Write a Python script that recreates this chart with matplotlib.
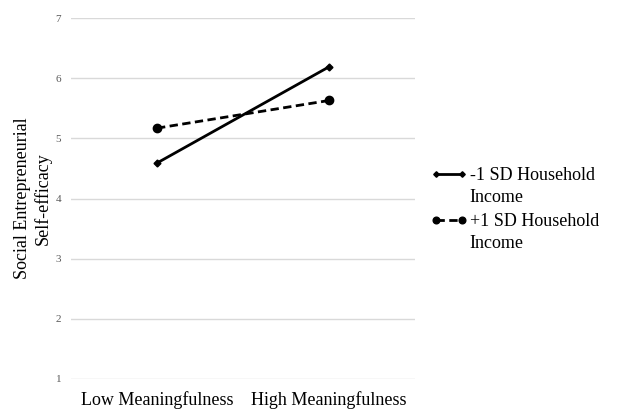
import matplotlib
matplotlib.use("Agg")
import matplotlib.pyplot as plt
from matplotlib.legend_handler import HandlerLine2D

categories = ["Low Meaningfulness", "High Meaningfulness"]
series_names = ["-1 SD Household\nIncome", "+1 SD Household\nIncome"]
low_income = [4.59, 6.19]
high_income = [5.17, 5.63]
yticks = [1, 2, 3, 4, 5, 6, 7]

plt.rcParams['font.family'] = ['Liberation Serif', 'DejaVu Serif']

fig = plt.figure(figsize=(6.2, 4.11), dpi=100)
ax = fig.add_axes([0.1145, 0.078, 0.555, 0.878])

x = list(range(len(categories)))
ax.plot(x, low_income, color='black', linestyle='-', linewidth=2,
        marker='D', markersize=3.5, label=series_names[0])
ax.plot(x, high_income, color='black', linestyle=(0, (3, 1.6)), linewidth=2,
        marker='o', markersize=6, label=series_names[1])

ax.set_xlim(-0.5, 1.5)
ax.set_ylim(1, 7)
ax.set_yticks(yticks)
ax.set_yticklabels([str(v) for v in yticks])
ax.set_xticks(x)
ax.set_xticklabels(categories, fontsize=13)
ax.tick_params(axis='y', length=0, labelsize=8, labelcolor='#595959', pad=7)
ax.tick_params(axis='x', length=0, pad=9)
for s in ax.spines.values():
    s.set_visible(False)
ax.grid(axis='y', color='#d9d9d9', linewidth=1)
ax.set_axisbelow(True)
ax.set_ylabel("Social Entrepreneurial\nSelf-efficacy", fontsize=13, linespacing=1.2, labelpad=3)


class TopHandler(HandlerLine2D):
    def create_artists(self, legend, orig_handle, xdescent, ydescent,
                       width, height, fontsize, trans):
        arts = super().create_artists(legend, orig_handle, xdescent, ydescent,
                                      width, height, fontsize, trans)
        for a in arts:
            yd = a.get_ydata()
            a.set_ydata([v + 0.7 * fontsize for v in yd])
        return arts


handles, labels = ax.get_legend_handles_labels()
leg = fig.legend(handles, labels, loc='center left', bbox_to_anchor=(0.669, 0.49),
                 frameon=False, fontsize=13, handlelength=2.0, handletextpad=0.15,
                 labelspacing=0.4, markerscale=0.8, numpoints=2,
                 handler_map={h: TopHandler() for h in handles})
for t in leg.get_texts():
    t.set_linespacing(1.35)

fig.savefig("out.png", dpi=100)
